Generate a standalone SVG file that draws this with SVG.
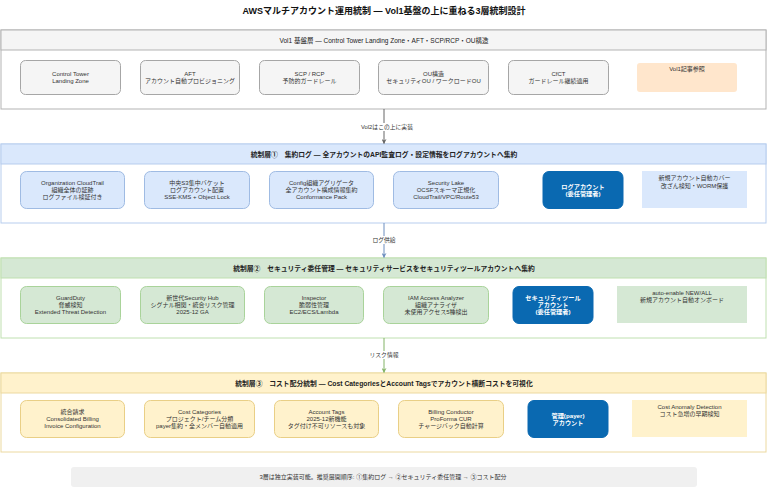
<svg xmlns="http://www.w3.org/2000/svg" width="768" height="488" viewBox="0 0 768 488">
<style>
text{font-family:"Liberation Sans","Noto Sans CJK JP",sans-serif;text-anchor:middle;dominant-baseline:central;fill:#333}
.t{font-size:9px;font-weight:bold;fill:#111}
.h{font-size:6.5px;fill:#222}
.hb{font-size:6.8px;font-weight:bold;fill:#222}
.n{font-size:6px}
.w{font-size:6.2px;font-weight:bold;fill:#fff}
.lbl{font-size:5.8px;fill:#333}
.c0{fill:#fff;stroke:#b3b3b3}
.h0{fill:#f5f5f5;stroke:#b3b3b3}
.n0{fill:#f5f5f5;stroke:#a6a6a6}
.c1{fill:#fff;stroke:#b7cdee}
.h1{fill:#dae8fc;stroke:#b7cdee}
.n1{fill:#dae8fc;stroke:#9fbbe3}
.c2{fill:#fff;stroke:#bfe0b0}
.h2{fill:#d5e8d4;stroke:#bfe0b0}
.n2{fill:#d5e8d4;stroke:#a9d39a}
.c3{fill:#fff;stroke:#ecd9a0}
.h3{fill:#fff2cc;stroke:#ecd9a0}
.n3{fill:#fff2cc;stroke:#e9cf86}
.dk{fill:#0a69b1;stroke:#0a69b1}
</style>
<defs>
<marker id="a0" viewBox="0 0 10 10" refX="9" refY="5" markerWidth="5" markerHeight="5" orient="auto"><path d="M0,0L10,5L0,10L3,5z" fill="#666"/></marker>
<marker id="a1" viewBox="0 0 10 10" refX="9" refY="5" markerWidth="5" markerHeight="5" orient="auto"><path d="M0,0L10,5L0,10L3,5z" fill="#6c8ebf"/></marker>
<marker id="a2" viewBox="0 0 10 10" refX="9" refY="5" markerWidth="5" markerHeight="5" orient="auto"><path d="M0,0L10,5L0,10L3,5z" fill="#82b366"/></marker>
</defs>
<rect width="768" height="488" fill="#fff"/>
<text class="t" x="384" y="11">AWSマルチアカウント運用統制 — Vol1基盤の上に重ねる3層統制設計</text>

<g id="vol1">
<rect class="c0" x="1" y="30" width="765" height="79"/>
<rect class="h0" x="1" y="30" width="765" height="20"/>
<text class="h" x="384" y="40">Vol1 基盤層 — Control Tower Landing Zone・AFT・SCP/RCP・OU構造</text>
</g>
<g id="v1-ct"><rect class="n0" x="20.5" y="60.5" width="100" height="34" rx="5"/><text class="n" x="70.5" y="74">Control Tower</text><text class="n" x="70.5" y="81">Landing Zone</text></g>
<g id="v1-aft"><rect class="n0" x="140.5" y="60.5" width="99" height="34" rx="5"/><text class="n" x="190" y="74">AFT</text><text class="n" x="190" y="81">アカウント自動プロビジョニング</text></g>
<g id="v1-scp"><rect class="n0" x="259.5" y="60.5" width="100" height="34" rx="5"/><text class="n" x="309.5" y="74">SCP / RCP</text><text class="n" x="309.5" y="81">予防的ガードレール</text></g>
<g id="v1-ou"><rect class="n0" x="378.5" y="60.5" width="110" height="34" rx="5"/><text class="n" x="433.5" y="74">OU構造</text><text class="n" x="433.5" y="81">セキュリティOU / ワークロードOU</text></g>
<g id="v1-cfct"><rect class="n0" x="508.5" y="60.5" width="100" height="34" rx="5"/><text class="n" x="558.5" y="74">CfCT</text><text class="n" x="558.5" y="81">ガードレール継続適用</text></g>
<g id="v1-note"><rect x="637" y="63" width="100" height="29" rx="3" fill="#ffe6cc"/><text class="n" x="687" y="68.5">Vol1記事参照</text></g>

<g id="layer1">
<rect class="c1" x="1" y="144" width="765" height="79"/>
<rect class="h1" x="1" y="144" width="765" height="20"/>
<text class="hb" x="384" y="154">統制層①　集約ログ — 全アカウントのAPI監査ログ・設定情報をログアカウントへ集約</text>
</g>
<g id="l1-ct"><rect class="n1" x="20.5" y="171.5" width="104" height="37" rx="6"/><text class="n" x="72.5" y="183">Organization CloudTrail</text><text class="n" x="72.5" y="190">組織全体の証跡</text><text class="n" x="72.5" y="197">ログファイル検証付き</text></g>
<g id="l1-s3"><rect class="n1" x="144.5" y="171.5" width="105" height="37" rx="6"/><text class="n" x="197" y="183">中央S3集中バケット</text><text class="n" x="197" y="190">ログアカウント配置</text><text class="n" x="197" y="197">SSE-KMS + Object Lock</text></g>
<g id="l1-config"><rect class="n1" x="269.5" y="171.5" width="104" height="37" rx="6"/><text class="n" x="321.5" y="183">Config組織アグリゲータ</text><text class="n" x="321.5" y="190">全アカウント構成情報集約</text><text class="n" x="321.5" y="197">Conformance Pack</text></g>
<g id="l1-lake"><rect class="n1" x="393.5" y="171.5" width="105" height="37" rx="6"/><text class="n" x="446" y="183">Security Lake</text><text class="n" x="446" y="190">OCSFスキーマ正規化</text><text class="n" x="446" y="197">CloudTrail/VPC/Route53</text></g>
<g id="l1-log"><rect class="dk" x="543" y="171.5" width="80" height="37" rx="6"/><text class="w" x="583" y="186">ログアカウント</text><text class="w" x="583" y="193.5">(委任管理者)</text></g>
<g id="l1-note"><rect x="642" y="171" width="105" height="37" fill="#dae8fc"/><text class="n" x="694.5" y="178">新規アカウント自動カバー</text><text class="n" x="694.5" y="185.5">改ざん検知・WORM保護</text></g>

<g id="layer2">
<rect class="c2" x="1" y="258" width="765" height="80"/>
<rect class="h2" x="1" y="258" width="765" height="20"/>
<text class="hb" x="384" y="268">統制層②　セキュリティ委任管理 — セキュリティサービスをセキュリティツールアカウントへ集約</text>
</g>
<g id="l2-gd"><rect class="n2" x="20.5" y="286.5" width="100" height="37" rx="6"/><text class="n" x="70.5" y="297.5">GuardDuty</text><text class="n" x="70.5" y="304.5">脅威検知</text><text class="n" x="70.5" y="311.5">Extended Threat Detection</text></g>
<g id="l2-hub"><rect class="n2" x="140.5" y="286.5" width="104" height="37" rx="6"/><text class="n" x="192.5" y="297.5">新世代Security Hub</text><text class="n" x="192.5" y="304.5">シグナル相関・統合リスク管理</text><text class="n" x="192.5" y="311.5">2025-12 GA</text></g>
<g id="l2-insp"><rect class="n2" x="264.5" y="286.5" width="99" height="37" rx="6"/><text class="n" x="314" y="297.5">Inspector</text><text class="n" x="314" y="304.5">脆弱性管理</text><text class="n" x="314" y="311.5">EC2/ECS/Lambda</text></g>
<g id="l2-iam"><rect class="n2" x="383.5" y="286.5" width="105" height="37" rx="6"/><text class="n" x="436" y="297.5">IAM Access Analyzer</text><text class="n" x="436" y="304.5">組織アナライザ</text><text class="n" x="436" y="311.5">未使用アクセス5種検出</text></g>
<g id="l2-sec"><rect class="dk" x="513" y="286.5" width="80" height="37" rx="6"/><text class="w" x="553" y="297.5">セキュリティツール</text><text class="w" x="553" y="304.5">アカウント</text><text class="w" x="553" y="311.5">(委任管理者)</text></g>
<g id="l2-note"><rect x="617" y="286" width="130" height="37" fill="#d5e8d4"/><text class="n" x="682" y="293">auto-enable NEW/ALL</text><text class="n" x="682" y="299.5">新規アカウント自動オンボード</text></g>

<g id="layer3">
<rect class="c3" x="1" y="373" width="765" height="79"/>
<rect class="h3" x="1" y="373" width="765" height="20"/>
<text class="hb" x="384" y="383">統制層③　コスト配分統制 — Cost CategoriesとAccount Tagsでアカウント横断コストを可視化</text>
</g>
<g id="l3-cb"><rect class="n3" x="20.5" y="400.5" width="104" height="37" rx="6"/><text class="n" x="72.5" y="411.5">統合請求</text><text class="n" x="72.5" y="418.5">Consolidated Billing</text><text class="n" x="72.5" y="425.5">Invoice Configuration</text></g>
<g id="l3-cc"><rect class="n3" x="144.5" y="400.5" width="110" height="37" rx="6"/><text class="n" x="199.5" y="411.5">Cost Categories</text><text class="n" x="199.5" y="418.5">プロジェクト/チーム分類</text><text class="n" x="199.5" y="425.5">payer集約・全メンバー自動適用</text></g>
<g id="l3-tags"><rect class="n3" x="274.5" y="400.5" width="104" height="37" rx="6"/><text class="n" x="326.5" y="411.5">Account Tags</text><text class="n" x="326.5" y="418.5">2025-12新機能</text><text class="n" x="326.5" y="425.5">タグ付け不可リソースも対象</text></g>
<g id="l3-bc"><rect class="n3" x="398.5" y="400.5" width="105" height="37" rx="6"/><text class="n" x="451" y="411.5">Billing Conductor</text><text class="n" x="451" y="418.5">ProForma CUR</text><text class="n" x="451" y="425.5">チャージバック自動計算</text></g>
<g id="l3-payer"><rect class="dk" x="528" y="400.5" width="80" height="37" rx="6"/><text class="w" x="568" y="415">管理(payer)</text><text class="w" x="568" y="422.5">アカウント</text></g>
<g id="l3-note"><rect x="632" y="400" width="115" height="37" fill="#fff2cc"/><text class="n" x="689.5" y="407">Cost Anomaly Detection</text><text class="n" x="689.5" y="413.5">コスト急増の早期検知</text></g>

<g id="connectors">
<line x1="384" y1="109" x2="384" y2="143.5" stroke="#666" stroke-width="1" marker-end="url(#a0)"/>
<rect x="355" y="123" width="64" height="8" fill="#fff"/>
<text class="lbl" x="387" y="127">Vol2はこの上に実装</text>
<line x1="384" y1="223" x2="384" y2="257.5" stroke="#6c8ebf" stroke-width="1" marker-end="url(#a1)"/>
<rect x="372" y="236" width="24" height="8" fill="#fff"/>
<text class="lbl" x="384" y="240">ログ供給</text>
<line x1="384" y1="338" x2="384" y2="372.5" stroke="#82b366" stroke-width="1" marker-end="url(#a2)"/>
<rect x="369" y="351" width="30" height="8" fill="#fff"/>
<text class="lbl" x="384" y="355">リスク情報</text>
</g>

<g id="footer">
<rect x="71" y="467" width="626" height="20" rx="3" fill="#f0f0f0"/>
<text class="n" x="383" y="477">3層は独立実装可能。推奨展開順序: ①集約ログ → ②セキュリティ委任管理 → ③コスト配分</text>
</g>
</svg>
